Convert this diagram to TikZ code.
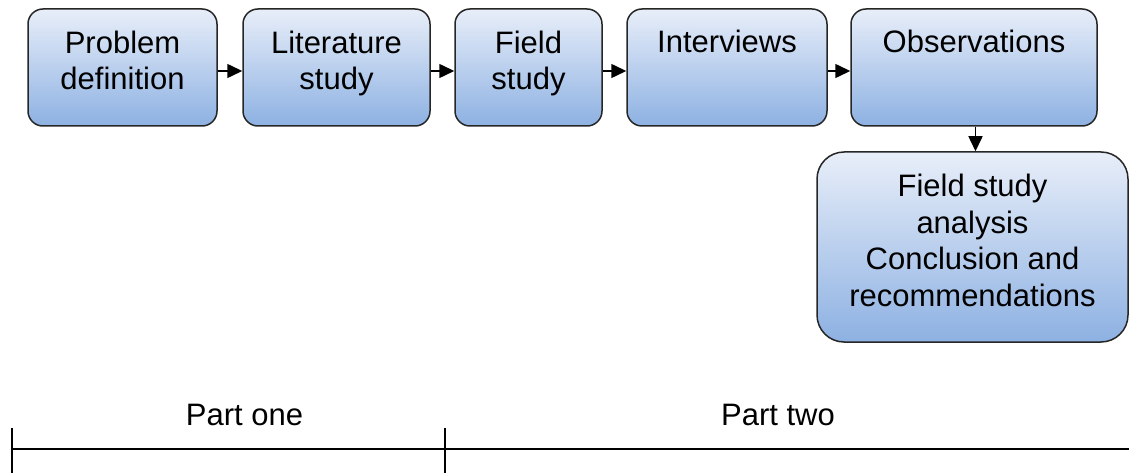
\documentclass[tikz,border=0pt]{standalone}
\usepackage{fontspec}
\setmainfont{Liberation Sans}
\usepackage{tikz}
\usetikzlibrary{arrows.meta}
\usetikzlibrary{positioning}

\definecolor{boxtop}{RGB}{232,238,249}
\definecolor{boxbot}{RGB}{141,177,226}
\tikzset{
	stage/.style={draw=black!85, line width=1.5pt, rounded corners=15pt,
		top color=boxtop, bottom color=boxbot, inner sep=0pt},
	stagetext/.style={inner sep=0pt, align=center,
		font=\fontsize{31}{36.5}\selectfont},
	flow/.style={line width=1.5pt, -{Triangle[length=15pt,width=14pt]}}
}

\begin{document}
\begin{tikzpicture}[x=1pt,y=-1pt]
\useasboundingbox (0,0) rectangle (1129,473);

% the stages
\node[stage, minimum width=189pt, minimum height=117pt] (prob) at (122.5,67.5) {};
\node[stage, minimum width=187pt, minimum height=117pt] (lit) at (336.5,67.5) {};
\node[stage, minimum width=147pt, minimum height=117pt] (field) at (528.5,67.5) {};
\node[stage, minimum width=200pt, minimum height=117pt] (inter) at (727,67.5) {};
\node[stage, minimum width=246pt, minimum height=117pt] (obs) at (974,67.5) {};
\node[stage, rounded corners=27pt, minimum width=311pt, minimum height=190pt] (ana) at (972.5,247) {};

\node[stagetext, below=22.5pt of prob.north] (probtxt) {Problem\\definition};
\node[stagetext, below=22.5pt of lit.north] (littxt) {Literature\\study};
\node[stagetext, below=22.5pt of field.north] (fieldtxt) {Field\\study};
\node[stagetext, below=22pt of inter.north] (intertxt) {Interviews};
\node[stagetext, below=22pt of obs.north] (obstxt) {Observations};
\node[stagetext, below=23pt of ana.north] (anatxt) {Field study\\analysis\\Conclusion and\\recommendations};

\draw[flow] ([yshift=-3.5pt]prob.east) -- ([yshift=-3.5pt]lit.west);
\draw[flow] ([yshift=-3.5pt]lit.east) -- ([yshift=-3.5pt]field.west);
\draw[flow] ([yshift=-3.5pt]field.east) -- ([yshift=-3.5pt]inter.west);
\draw[flow] ([yshift=-3.5pt]inter.east) -- ([yshift=-3.5pt]obs.west);
\draw[flow] ([xshift=1.5pt]obs.south) -- ([xshift=1.5pt]obs.south |- ana.north);

% time line
\coordinate (tl) at (12,449);
\coordinate (tm) at (445,449);
\coordinate (tr) at (1129,449);
\draw[line width=2pt] (tl) -- (tr);
\draw[line width=1.3pt] ([yshift=21pt]tl) -- ([yshift=-24pt]tl);
\draw[line width=1.3pt] ([yshift=21pt]tm) -- ([yshift=-24pt]tm);

\node[stagetext, anchor=base] (partone) at (244.5,425) {Part one};
\node[stagetext, anchor=base] (parttwo) at (778,425) {Part two};

\end{tikzpicture}
\end{document}
